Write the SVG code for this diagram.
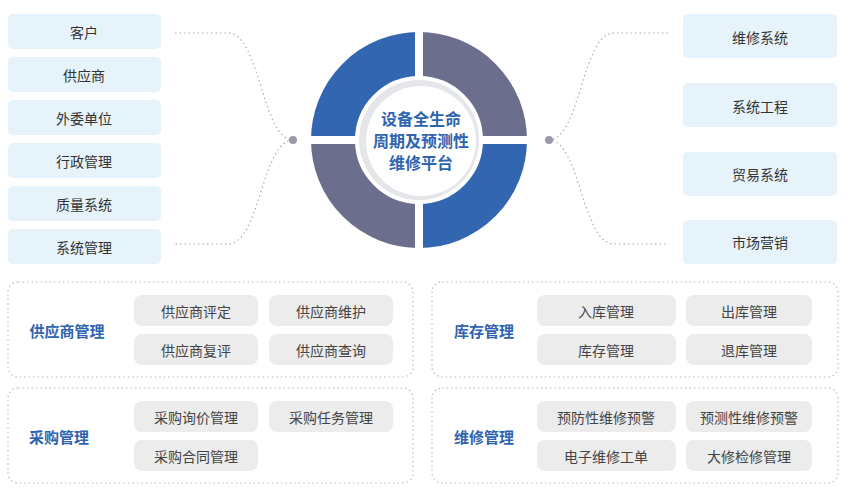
<svg xmlns="http://www.w3.org/2000/svg" width="850" height="500" viewBox="0 0 850 500">
<style>
text{font-family:"Noto Sans CJK SC","Noto Sans",sans-serif;text-anchor:middle;dominant-baseline:central}
.sb{fill:#e6f3fb}
.sbt{font-size:14px;fill:#333}
.pn{fill:#fff;stroke:#bbb;stroke-width:1.2;stroke-dasharray:1.5 3}
.pl{fill:#ececec}
.plt{font-size:14px;fill:#444}
.hd{font-size:15px;font-weight:bold;fill:#2f64b0}
.cn{fill:none;stroke:#aab;stroke-width:1.2;stroke-dasharray:1.5 3}
.ct{font-size:16px;font-weight:bold;fill:#2f64b0}
</style>
<rect width="850" height="500" fill="#fff"/>
<g id="connectors">
<path class="cn" d="M175 33 H228 C260 33 262 140 293 140 C262 140 260 244 228 244 H175"/>
<path class="cn" d="M668 33 H614 C582 33 580 140 549 140 C580 140 582 244 614 244 H668"/>
<circle cx="293" cy="140" r="4" fill="#9a9aa8"/>
<circle cx="549" cy="140" r="4" fill="#9a9aa8"/>
</g>
<g id="center">
<path d="M419 54 A86 86 0 0 1 505 140" fill="none" stroke="#6b6e8c" stroke-width="44"/>
<path d="M505 140 A86 86 0 0 1 419 226" fill="none" stroke="#3366b0" stroke-width="44"/>
<path d="M419 226 A86 86 0 0 1 333 140" fill="none" stroke="#6b6e8c" stroke-width="44"/>
<path d="M333 140 A86 86 0 0 1 419 54" fill="none" stroke="#3366b0" stroke-width="44"/>
<path d="M419 28 V252 M307 140 H531" stroke="#fff" stroke-width="8"/>
<circle cx="419" cy="140" r="60" fill="#e4e6ea"/>
<circle cx="421" cy="141" r="55" fill="#fff"/>
<text class="ct" x="421" y="118">设备全生命</text>
<text class="ct" x="421" y="140">周期及预测性</text>
<text class="ct" x="421" y="162">维修平台</text>
</g>
<g id="left-nodes">
<g id="n-kehu"><rect class="sb" x="8" y="14" width="153" height="35" rx="5"/><text class="sbt" x="84" y="32">客户</text></g>
<g id="n-gys"><rect class="sb" x="8" y="57" width="153" height="35" rx="5"/><text class="sbt" x="84" y="75">供应商</text></g>
<g id="n-wwdw"><rect class="sb" x="8" y="100" width="153" height="35" rx="5"/><text class="sbt" x="84" y="118">外委单位</text></g>
<g id="n-xzgl"><rect class="sb" x="8" y="143" width="153" height="35" rx="5"/><text class="sbt" x="84" y="161">行政管理</text></g>
<g id="n-zlxt"><rect class="sb" x="8" y="186" width="153" height="35" rx="5"/><text class="sbt" x="84" y="204">质量系统</text></g>
<g id="n-xtgl"><rect class="sb" x="8" y="229" width="153" height="35" rx="5"/><text class="sbt" x="84" y="247">系统管理</text></g>
</g>
<g id="right-nodes">
<g id="n-wxxt"><rect class="sb" x="683" y="14" width="154" height="44" rx="5"/><text class="sbt" x="760" y="37">维修系统</text></g>
<g id="n-xtgc"><rect class="sb" x="683" y="83" width="154" height="44" rx="5"/><text class="sbt" x="760" y="106">系统工程</text></g>
<g id="n-myxt"><rect class="sb" x="683" y="152" width="154" height="44" rx="5"/><text class="sbt" x="760" y="174">贸易系统</text></g>
<g id="n-scyx"><rect class="sb" x="683" y="220" width="154" height="44" rx="5"/><text class="sbt" x="760" y="242">市场营销</text></g>
</g>
<g id="p-gysgl">
<rect class="pn" x="8" y="282" width="405" height="95" rx="10"/>
<text class="hd" x="67" y="330">供应商管理</text>
<rect class="pl" x="134" y="295" width="124" height="31" rx="8"/><text class="plt" x="196" y="311">供应商评定</text>
<rect class="pl" x="269" y="295" width="124" height="31" rx="8"/><text class="plt" x="331" y="311">供应商维护</text>
<rect class="pl" x="134" y="334" width="124" height="31" rx="8"/><text class="plt" x="196" y="350">供应商复评</text>
<rect class="pl" x="269" y="334" width="124" height="31" rx="8"/><text class="plt" x="331" y="350">供应商查询</text>
</g>
<g id="p-cggl">
<rect class="pn" x="8" y="388" width="405" height="95" rx="10"/>
<text class="hd" x="59" y="436">采购管理</text>
<rect class="pl" x="134" y="401" width="124" height="31" rx="8"/><text class="plt" x="196" y="417">采购询价管理</text>
<rect class="pl" x="269" y="401" width="124" height="31" rx="8"/><text class="plt" x="331" y="417">采购任务管理</text>
<rect class="pl" x="134" y="440" width="124" height="31" rx="8"/><text class="plt" x="196" y="456">采购合同管理</text>
</g>
<g id="p-kcgl">
<rect class="pn" x="432" y="282" width="406" height="95" rx="10"/>
<text class="hd" x="484" y="330">库存管理</text>
<rect class="pl" x="537" y="295" width="139" height="31" rx="8"/><text class="plt" x="606" y="311">入库管理</text>
<rect class="pl" x="686" y="295" width="126" height="31" rx="8"/><text class="plt" x="749" y="311">出库管理</text>
<rect class="pl" x="537" y="334" width="139" height="31" rx="8"/><text class="plt" x="606" y="350">库存管理</text>
<rect class="pl" x="686" y="334" width="126" height="31" rx="8"/><text class="plt" x="749" y="350">退库管理</text>
</g>
<g id="p-wxgl">
<rect class="pn" x="432" y="388" width="406" height="95" rx="10"/>
<text class="hd" x="484" y="436">维修管理</text>
<rect class="pl" x="537" y="401" width="139" height="31" rx="8"/><text class="plt" x="606" y="417">预防性维修预警</text>
<rect class="pl" x="686" y="401" width="126" height="31" rx="8"/><text class="plt" x="749" y="417">预测性维修预警</text>
<rect class="pl" x="537" y="440" width="139" height="31" rx="8"/><text class="plt" x="606" y="456">电子维修工单</text>
<rect class="pl" x="686" y="440" width="126" height="31" rx="8"/><text class="plt" x="749" y="456">大修检修管理</text>
</g>
</svg>
